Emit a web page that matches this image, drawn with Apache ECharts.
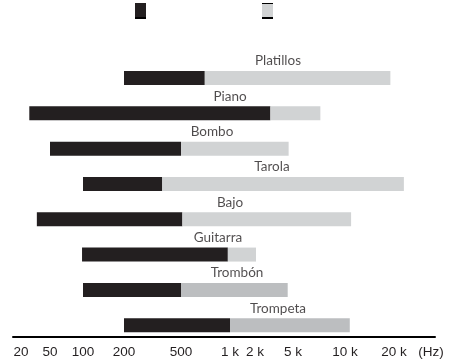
<!DOCTYPE html>
<html>
<head>
<meta charset="utf-8">
<script src="https://cdn.jsdelivr.net/npm/echarts@6/dist/echarts.min.js"></script>
<style>
  html, body { margin: 0; padding: 0; background: #fff; }
  #chart { width: 451px; height: 362px; }
</style>
</head>
<body>
<div id="chart"></div>
<script>
// Instruments, top to bottom
var instrumentos = ['Platillos', 'Piano', 'Bombo', 'Tarola', 'Bajo', 'Guitarra', 'Trombón', 'Trompeta'];
// Range in Hz: lowest note, end of fundamentals, end of harmonics
var inicioHz = [200, 26, 50, 100, 33, 98, 100, 200];
var fundamentalHz = [700, 2900, 500, 370, 510, 970, 500, 1000];
var armonicosHz = [19000, 7200, 4500, 23000, 10900, 2050, 4400, 10700];

// Axis ticks (the printed scale is uneven, so each tick has its own spot)
var tickHz = [20, 50, 100, 200, 500, 1000, 2000, 5000, 10000, 20000];
var tickLabels = ['20', '50', '100', '200', '500', '1 k', '2 k', '5 k', '10 k', '20 k'];
var tickPos = [21, 50, 83, 124, 181, 230, 255, 293, 345, 394];
var unitPos = 431;
// where each instrument name sits along the axis
var labelPos = [278, 230, 212, 272, 230, 218, 237, 278];

// Hz -> axis position: log interpolation between printed ticks
function pos(hz) {
  var i = 0;
  while (i < tickHz.length - 2 && hz > tickHz[i + 1]) i++;
  var t = Math.log(hz / tickHz[i]) / Math.log(tickHz[i + 1] / tickHz[i]);
  return tickPos[i] + t * (tickPos[i + 1] - tickPos[i]);
}

var baseData = inicioHz.map(function (v) { return pos(v); });
var fundData = instrumentos.map(function (n, i) { return pos(fundamentalHz[i]) - pos(inicioHz[i]); });
var armData = instrumentos.map(function (n, i) {
  return {
    value: pos(armonicosHz[i]) - pos(fundamentalHz[i]),
    itemStyle: { color: i >= 6 ? '#bcbec0' : '#d1d3d4' }
  };
});

var chart = echarts.init(document.getElementById('chart'));
chart.setOption({
  animation: false,
  backgroundColor: '#ffffff',
  grid: { left: 13, right: 16, top: 60.35, height: 282.5 },
  legend: {
    data: ['Fundamental', 'Armónicos'],
    left: 135, top: 3, padding: 0,
    itemWidth: 11, itemHeight: 16, itemGap: 116,
    icon: 'rect',
    formatter: function () { return ''; },
    selectedMode: false
  },
  // black edges on the legend keys
  graphic: [
    { type: 'rect', z: 100, shape: { x: 135, y: 17, width: 11, height: 2 }, style: { fill: '#000' } },
    { type: 'rect', z: 100, shape: { x: 262, y: 17, width: 11, height: 2 }, style: { fill: '#000' } },
    { type: 'rect', z: 100, shape: { x: 262, y: 3, width: 11, height: 1 }, style: { fill: '#000' } }
  ],
  xAxis: {
    type: 'value',
    min: 13, max: 435,
    offset: -5.85,
    splitLine: { show: false },
    axisTick: { show: false },
    axisLine: { show: true, lineStyle: { color: '#000', width: 2 } },
    axisLabel: {
      customValues: tickPos.concat([unitPos]),
      margin: 8,
      color: '#231f20',
      fontFamily: 'Liberation Sans',
      fontSize: 13.5,
      formatter: function (v) {
        var k = tickPos.indexOf(v);
        return k >= 0 ? tickLabels[k] : '(Hz)';
      }
    }
  },
  yAxis: {
    type: 'category',
    inverse: true,
    data: instrumentos,
    show: false
  },
  series: [
    {
      name: 'base', type: 'bar', stack: 'r', barWidth: 14,
      itemStyle: { color: 'rgba(0,0,0,0)' },
      data: baseData
    },
    {
      name: 'Fundamental', type: 'bar', stack: 'r', barWidth: 14,
      itemStyle: { color: '#231f20' },
      data: fundData
    },
    {
      name: 'Armónicos', type: 'bar', stack: 'r', barWidth: 14,
      itemStyle: { color: '#d1d3d4' },
      data: armData
    },
    {
      name: 'nombres', type: 'scatter', symbolSize: 1,
      itemStyle: { color: 'rgba(0,0,0,0)' },
      label: {
        show: true, position: 'inside', offset: [0, -17],
        formatter: '{b}',
        color: '#231f20', fontFamily: 'Lato', fontSize: 13.5
      },
      data: instrumentos.map(function (n, i) { return { name: n, value: [labelPos[i], n] }; })
    }
  ]
});
</script>
</body>
</html>
